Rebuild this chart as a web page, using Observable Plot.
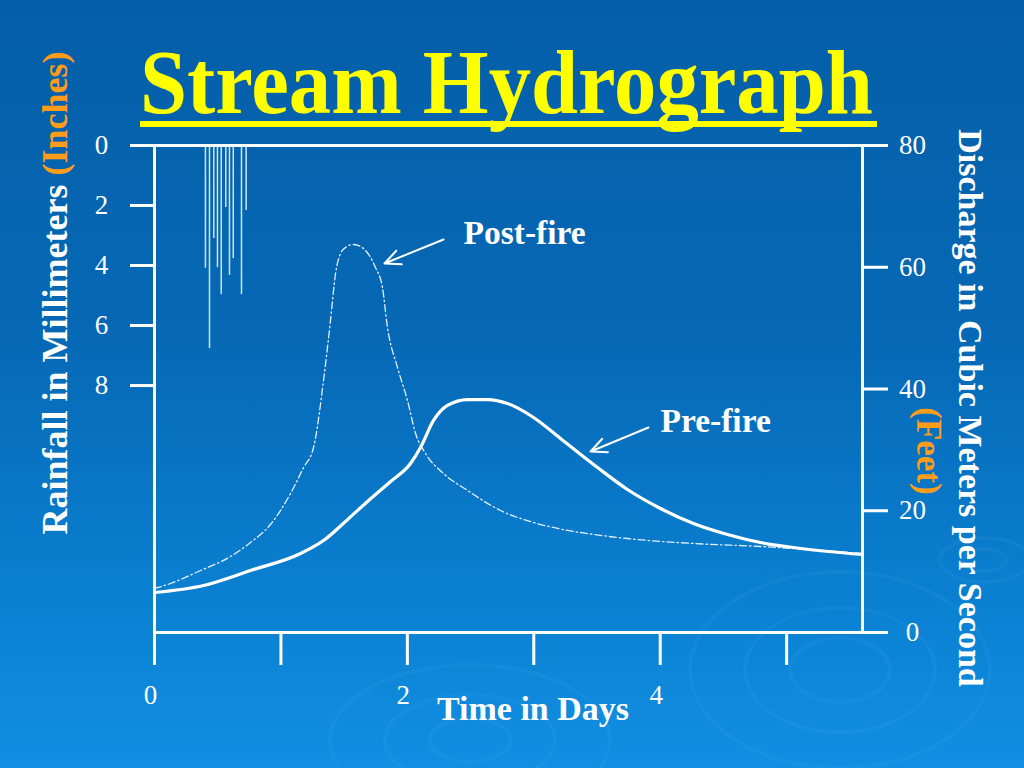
<!DOCTYPE html>
<html><head><meta charset="utf-8">
<script src="https://cdn.jsdelivr.net/npm/d3@7"></script>
<script src="https://cdn.jsdelivr.net/npm/@observablehq/plot@0.6"></script>
<style>
body{margin:0;background:#0a6bb5;}
#slide{position:relative;width:1024px;height:768px;overflow:hidden;
  background:linear-gradient(180deg,#055ea8 0%,#0669b6 45%,#0a7ecf 75%,#118fe2 100%);
  font-family:"Liberation Serif","Times New Roman",serif;}
#deco{position:absolute;left:0;top:0;}
#chart{position:absolute;left:0;top:0;}
.t{position:absolute;white-space:nowrap;font-weight:bold;line-height:1;}
.title{left:140px;top:36px;font-size:92px;color:#ffff00;transform:scaleX(0.92);transform-origin:0 0;}
.uline{position:absolute;left:140px;top:121px;width:737px;height:6px;background:#ffff00;}
.ylab{color:#fff;}
.or{color:#ff9c1a;}
</style></head><body>
<div id="slide">
  <svg id="deco" width="1024" height="768" fill="none" stroke="#6cc0ff" stroke-opacity="0.07">
    <g stroke-width="4">
      <ellipse cx="840" cy="670" rx="50" ry="32"/>
      <ellipse cx="840" cy="670" rx="95" ry="62"/>
      <ellipse cx="840" cy="670" rx="150" ry="98"/>
      <ellipse cx="470" cy="740" rx="40" ry="22"/>
      <ellipse cx="470" cy="740" rx="85" ry="45"/>
      <ellipse cx="470" cy="740" rx="140" ry="75"/>
      <ellipse cx="985" cy="560" rx="22" ry="11"/>
      <ellipse cx="985" cy="560" rx="45" ry="22"/>
    </g>
  </svg>
  <div id="chart"></div>
  <div class="t title">Stream Hydrograph</div>
  <div class="uline"></div>
  <div class="t ylab" style="left:55px;top:293px;font-size:36px;transform:translate(-50%,-50%) rotate(-90deg);">Rainfall in Millimeters <span class="or">(Inches)</span></div>
  <div class="t ylab" style="left:970px;top:408px;font-size:34px;transform:translate(-50%,-50%) rotate(90deg);">Discharge in Cubic Meters per Second</div>
  <div class="t ylab or" style="left:928px;top:451px;font-size:35px;transform:translate(-50%,-50%) rotate(90deg);">(Feet)</div>
  <div class="t" style="left:533px;top:692px;transform:translateX(-50%);font-size:34px;color:#fff;">Time in Days</div>
</div>
<script>
// ---- data ----
const preDays = [0,0.388,0.759,1.155,1.337,1.550,1.685,1.867,2.025,2.104,2.207,2.317,2.476,2.634,2.792,2.998,3.211,3.504,3.741,4.002,4.263,4.532,4.793,5.054,5.330,5.600];
const preFlow = [6.57,7.72,10.18,12.98,15.11,19.0,21.52,24.8,27.76,30.39,34.83,37.29,38.27,38.27,37.62,35.32,31.87,27.10,23.49,20.37,17.91,16.10,14.78,13.96,13.31,12.81];

const postDays = [0,0.127,0.364,0.601,0.759,0.917,1.076,1.179,1.258,1.337,1.392,1.432,1.471,1.511,1.566,1.614,1.653,1.748,1.803,1.843,1.922,2.001,2.065,2.144,2.286,2.476,2.737,2.998,3.211,3.393,3.741,4.263,4.793,5.268,5.600];
const postFlow = [7.23,8.05,10.18,12.48,14.78,17.74,22.83,27.10,30.39,41.40,51.25,58.97,62.26,63.24,63.74,63.57,63.08,59.96,56.67,50.10,43.53,38.11,32.69,29.40,26.12,23.33,20.04,18.07,17.00,16.35,15.44,14.62,14.13,13.47,12.98];

const rainDays = [0.403,0.435,0.469,0.498,0.528,0.564,0.593,0.623,0.688,0.725];
const rainMm   = [4.09,6.77,3.10,4.07,4.97,2.07,4.33,3.77,4.97,2.17];

const xTicks = [0,1,2,3,4,5];
const xLabels = [0,2,4];
const flowTicks = [0,20,40,60,80];
const rainTicks = [0,2,4,6,8];

const notes = [
  {label:"Post-fire", tx:2.444, ty:63.9, x1:2.286, y1:64.56, x2:1.819, y2:60.62},
  {label:"Pre-fire",  tx:4.002, ty:33.0, x1:3.907, y1:33.68, x2:3.449, y2:29.73}
];

// rainfall axis (mm, downward from top) shares the vertical extent of the discharge axis
const flowMax = 80;
const rainMax = 16.23;
const rainToY = r => flowMax * (1 - r / rainMax);
const yToRain = v => Math.round((1 - v / flowMax) * rainMax);

const pre = preDays.map((d,i)=>({day:d, q:preFlow[i]}));
const post = postDays.map((d,i)=>({day:d, q:postFlow[i]}));
const rain = rainDays.map((d,i)=>({day:d, mm:rainMm[i]}));

const font = "Liberation Serif, Times New Roman, serif";

const plot = Plot.plot({
  width:1024, height:768,
  marginLeft:154, marginRight:162, marginTop:145, marginBottom:136,
  style:{background:"transparent", color:"white", fontFamily:font, overflow:"visible"},
  x:{domain:[0,5.6]},
  y:{domain:[0,flowMax]},
  marks:[
    Plot.ruleX(rain, {x:"day", y1:flowMax, y2:d=>rainToY(d.mm), stroke:"#cfe4f7", strokeWidth:1.5}),
    Plot.line(post, {x:"day", y:"q", curve:"monotone-x", stroke:"#e4f1ff", strokeWidth:1.3, strokeDasharray:"7,3,1.5,3"}),
    Plot.line(pre, {x:"day", y:"q", curve:"monotone-x", stroke:"white", strokeWidth:3.2}),
    Plot.frame({stroke:"white", strokeWidth:3}),
    Plot.axisY({anchor:"left", ticks:rainTicks.map(rainToY), tickFormat:yToRain, tickSize:24, tickPadding:29, textAnchor:"middle", fontSize:27, strokeWidth:3, label:null}),
    Plot.axisY({anchor:"right", ticks:flowTicks, tickSize:25, tickPadding:25, textAnchor:"middle", fontSize:27, strokeWidth:3, label:null}),
    Plot.axisX({ticks:xTicks, tickSize:33, tickFormat:()=>"", strokeWidth:3, label:null}),
    Plot.axisX({ticks:xLabels, tickSize:0, tickPadding:52, dx:-4, tickFormat:d=>String(d), fontSize:27, label:null}),
    Plot.arrow(notes, {x1:"x1", y1:"y1", x2:"x2", y2:"y2", stroke:"white", strokeWidth:2, headLength:13, headAngle:50}),
    Plot.text(notes, {x:"tx", y:"ty", text:"label", textAnchor:"start", lineAnchor:"bottom", fontSize:33.5, fontWeight:"bold", fill:"white"})
  ]
});
document.getElementById("chart").appendChild(plot);
</script>
</body></html>
